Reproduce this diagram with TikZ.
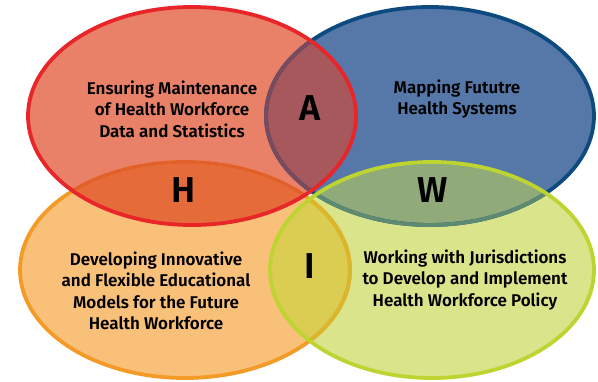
\documentclass[tikz,border=0pt]{standalone}
\usepackage{fontspec}
\newfontfamily\lbl{Fira Sans SemiBold}
\definecolor{redfill}{RGB}{233,128,104}
\definecolor{redline}{RGB}{232,38,42}
\definecolor{bluefill}{RGB}{85,120,168}
\definecolor{blueline}{RGB}{12,74,128}
\definecolor{orfill}{RGB}{249,192,122}
\definecolor{orline}{RGB}{243,155,38}
\definecolor{yefill}{RGB}{218,228,138}
\definecolor{yeline}{RGB}{189,212,49}
\definecolor{Acol}{RGB}{166,88,92}
\definecolor{Hcol}{RGB}{230,107,58}
\definecolor{Wcol}{RGB}{144,170,122}
\definecolor{Icol}{RGB}{219,204,82}
\definecolor{bluemutedA}{RGB}{122,74,94}
\definecolor{bluemutedW}{RGB}{94,138,114}
\definecolor{ormutedH}{RGB}{226,96,44}
\definecolor{ormutedI}{RGB}{218,182,42}
\tikzset{
  body/.style={font=\lbl\fontsize{17}{21.5}\selectfont, align=center, text=black, inner sep=0pt},
  letter/.style={font=\lbl\fontsize{36}{36}\selectfont, text=black, inner sep=0pt},
  ring/.style={line width=3.8pt}
}
\def\redE{(192,116) ellipse [x radius=164pt, y radius=109pt]}
\def\blueE{(430,116) ellipse [x radius=164pt, y radius=109pt]}
\def\orE{(185,270) ellipse [x radius=165pt, y radius=108pt]}
\def\yeE{(432,270) ellipse [x radius=162pt, y radius=108pt]}
\begin{document}
\begin{tikzpicture}[x=1pt,y=-1pt]
\useasboundingbox (0,0) rectangle (598,382);
% base fills
\fill[bluefill] \blueE;
\fill[orfill] \orE;
\fill[redfill] \redE;
\fill[yefill] \yeE;
% lens fills
\begin{scope}\clip \redE; \fill[Acol] \blueE; \end{scope}
\begin{scope}\clip \redE; \fill[Hcol] \orE; \end{scope}
\begin{scope}\clip \yeE; \fill[Wcol] \blueE; \end{scope}
\begin{scope}\clip \yeE; \fill[Icol] \orE; \end{scope}
% lower strokes
\draw[ring, blueline] \blueE;
\draw[ring, orline] \orE;
\begin{scope}\clip \redE; \draw[ring, bluemutedA] \blueE; \end{scope}
\begin{scope}\clip \yeE; \draw[ring, bluemutedW] \blueE; \end{scope}
\begin{scope}\clip \redE; \draw[ring, ormutedH] \orE; \end{scope}
\begin{scope}\clip \yeE; \draw[ring, ormutedI] \orE; \end{scope}
% upper strokes
\draw[ring, yeline] \yeE;
\draw[ring, redline] \redE;
% texts
\node[body] (tred) at (172,109) {Ensuring Maintenance\\of Health Workforce\\Data and Statistics};
\node[body] (tblue) at (457,99) {Mapping Fututre\\Health Systems};
\node[body] (tor) at (156,291) {Developing Innovative\\and Flexible Educational\\Models for the Future\\Health Workforce};
\node[body] (tye) at (465,280) {Working with Jurisdictions\\to Develop and Implement\\Health Workforce Policy};
\node[letter] (la) at (310,108) {A};
\node[letter] (lh) at (183.5,190.5) {H};
\node[letter] (lw) at (433,190.5) {W};
\node[letter] (li) at (309.5,266.5) {I};
\end{tikzpicture}
\end{document}
